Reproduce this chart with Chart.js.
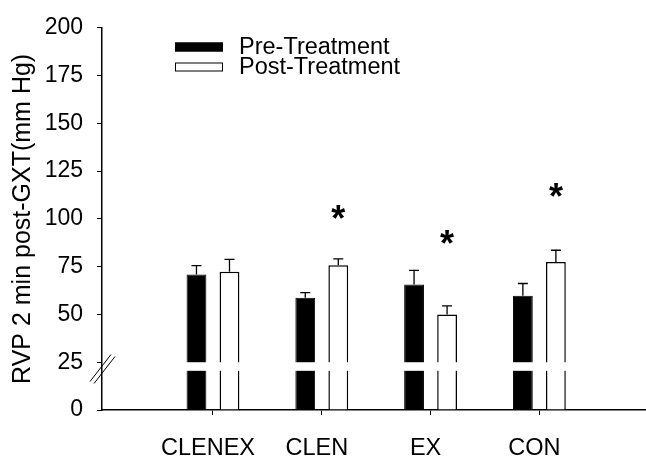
<!DOCTYPE html>
<html>
<head>
<meta charset="utf-8">
<script src="https://cdn.jsdelivr.net/npm/chart.js@4.4.1/dist/chart.umd.min.js"></script>
<style>
  html, body { margin: 0; padding: 0; background: #fff; }
  #wrap { width: 646px; height: 460px; }
</style>
</head>
<body>
<div id="wrap"><canvas id="myChart" width="646" height="460"></canvas></div>
<script>
// Chart data
const categories = ['CLENEX', 'CLEN', 'EX', 'CON'];
const categoryPositions = [1, 2, 3, 4];
const preValues = [70.9, 58.8, 65.7, 59.8];
const postValues = [72.3, 75.7, 50.0, 77.4];
const preErrors = [4.6, 2.6, 7.4, 6.4];
const postErrors = [6.5, 3.4, 4.5, 6.2];
const starValues = [null, 101.9, 89.0, 113.3];
const yTickValues = [0, 25, 50, 75, 100, 125, 150, 175, 200];
const breakRange = [20.5, 25];
const seriesLabels = ['Pre-Treatment', 'Post-Treatment'];

const FONT = 'Liberation Sans, Arial, sans-serif';

// error bars, axis break, asterisks and legend
const extras = {
    id: 'extras',
    afterDatasetsDraw(chart) {
        const ctx = chart.ctx;
        const area = chart.chartArea;
        const y = chart.scales.y;
        const errs = [preErrors, postErrors];

        ctx.save();

        // white gap through the bars (axis break)
        const gTop = y.getPixelForValue(breakRange[1]);
        const gBot = y.getPixelForValue(breakRange[0]);
        ctx.fillStyle = '#fff';
        ctx.fillRect(area.left + 1, gTop, area.right - area.left, gBot - gTop);

        // break marks on the y axis
        ctx.strokeStyle = '#000';
        ctx.lineWidth = 1;
        const bx = area.left;
        const by = (gTop + gBot) / 2;
        [[-2, 0], [2, 2]].forEach(function(o) {
            ctx.beginPath();
            ctx.moveTo(bx - 10 + o[0], by + 15 + o[1]);
            ctx.lineTo(bx + 11 + o[0], by - 12 + o[1]);
            ctx.stroke();
        });

        // error bars (upper only)
        ctx.lineWidth = 1.3;
        chart.data.datasets.forEach(function(ds, d) {
            const meta = chart.getDatasetMeta(d);
            meta.data.forEach(function(bar, i) {
                const top = y.getPixelForValue(ds.data[i].y + errs[d][i]);
                ctx.beginPath();
                ctx.moveTo(bar.x, bar.y);
                ctx.lineTo(bar.x, top);
                ctx.moveTo(bar.x - 5, top);
                ctx.lineTo(bar.x + 5, top);
                ctx.stroke();
            });
        });

        // significance asterisks above post bars
        ctx.fillStyle = '#000';
        ctx.font = 'bold 36px ' + FONT;
        ctx.textAlign = 'center';
        ctx.textBaseline = 'middle';
        const postMeta = chart.getDatasetMeta(1);
        starValues.forEach(function(v, i) {
            if (v === null) return;
            ctx.fillText('*', postMeta.data[i].x, y.getPixelForValue(v) + 6);
        });

        // legend
        ctx.font = '23.5px ' + FONT;
        ctx.textAlign = 'left';
        ctx.textBaseline = 'middle';
        chart.data.datasets.forEach(function(ds, d) {
            const ly = 47 + d * 20;
            ctx.fillStyle = ds.backgroundColor;
            ctx.fillRect(175, ly - 4.5, 48, 9);
            ctx.lineWidth = 1;
            ctx.strokeStyle = '#000';
            ctx.strokeRect(175.5, ly - 4, 47, 8);
            ctx.fillStyle = '#000';
            ctx.fillText(ds.label, 239, ly + 1);
        });

        ctx.restore();
    }
};

const ctx = document.getElementById('myChart');

new Chart(ctx, {
    type: 'bar',
    data: {
        datasets: [{
            label: seriesLabels[0],
            data: categoryPositions.map((x, i) => ({ x: x, y: preValues[i] })),
            backgroundColor: '#000',
            borderColor: '#000',
            borderWidth: 1
        }, {
            label: seriesLabels[1],
            data: categoryPositions.map((x, i) => ({ x: x, y: postValues[i] })),
            backgroundColor: '#fff',
            borderColor: '#000',
            borderWidth: 1.5
        }]
    },
    options: {
        responsive: false,
        animation: false,
        categoryPercentage: 0.607,
        barPercentage: 0.6,
        layout: { padding: { left: 0, top: 25, right: 0, bottom: 0 } },
        plugins: {
            legend: { display: false },
            tooltip: { enabled: false }
        },
        scales: {
            x: {
                type: 'linear',
                min: -0.02,
                max: 4.98,
                offset: false,
                afterBuildTicks: function(scale) {
                    scale.ticks = categoryPositions.map(v => ({ value: v }));
                },
                afterFit: function(scale) { scale.height = 50; },
                grid: {
                    offset: false,
                    drawOnChartArea: false,
                    drawTicks: true,
                    tickLength: 5,
                    color: '#000'
                },
                border: { display: true, color: '#000', width: 1.5 },
                ticks: {
                    color: '#000',
                    font: { family: FONT, size: 23.5 },
                    padding: 19,
                    labelOffset: -5,
                    maxRotation: 0,
                    autoSkip: false,
                    callback: function(value) {
                        const i = categoryPositions.indexOf(value);
                        return i >= 0 ? categories[i] : '';
                    }
                }
            },
            y: {
                min: 0,
                max: 200,
                afterBuildTicks: function(scale) {
                    scale.ticks = yTickValues.map(v => ({ value: v }));
                },
                afterFit: function(scale) { scale.width = 102; },
                grid: {
                    drawOnChartArea: false,
                    drawTicks: true,
                    tickLength: 5,
                    color: '#000'
                },
                border: { display: true, color: '#000', width: 1.5 },
                ticks: {
                    color: '#000',
                    font: { family: FONT, size: 23 },
                    padding: 14
                },
                title: {
                    display: true,
                    text: 'RVP 2 min post-GXT(mm Hg)',
                    color: '#000',
                    font: { family: FONT, size: 25 },
                    padding: { top: 8, bottom: 0 }
                }
            }
        }
    },
    plugins: [extras]
});
</script>
</body>
</html>
